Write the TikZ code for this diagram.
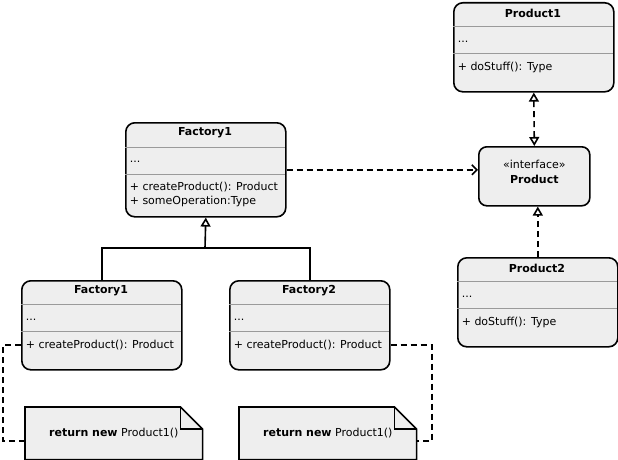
\documentclass[tikz,border=0pt]{standalone}
\usepackage{fontspec}
\setsansfont{DejaVu Sans}
\usetikzlibrary{arrows.meta}
\definecolor{boxgray}{HTML}{EEEEEE}
\definecolor{sepgray}{HTML}{9A9A9A}

\begin{document}
\begin{tikzpicture}
  [x=1pt,y=-1pt,line width=1.6pt,
   every node/.style={font=\sffamily\fontsize{11}{14}\selectfont,inner sep=0pt},
   box/.style={draw,rounded corners=9pt,fill=boxgray,anchor=north west,minimum width=160,minimum height=89},
   title/.style={font=\sffamily\bfseries\fontsize{11}{14}\selectfont},
   member/.style={anchor=west,align=left},
   sep/.style={draw=sepgray,line width=0.8pt},
   dline/.style={dash pattern=on 6pt off 4pt},
   notebox/.style={anchor=north west,minimum width=176,minimum height=51},
   tri/.tip={Triangle[open,length=9pt,width=10pt]},
   inherit/.style={-tri}]
  \useasboundingbox (0,0) rectangle (618,460);

  % classes with one operation
  \foreach \nm/\x/\y/\ttl/\op in {p1/453/2/Product1/{+ doStuff(): Type},
      p2/457/257/Product2/{+ doStuff(): Type},
      fb/21/280/Factory1/{+ createProduct(): Product},
      fc/229/280/Factory2/{+ createProduct(): Product}}
  {
    \node[box] (\nm) at (\x,\y) {};
    \node[title] (\nm-t) at (\x+80,\y+11) {\ttl};
    \draw[sep] (\x,\y+24) -- (\x+160,\y+24);
    \node[member] (\nm-a) at (\x+4,\y+40) {...};
    \draw[sep] (\x,\y+51) -- (\x+160,\y+51);
    \node[member] (\nm-o) at (\x+4,\y+65) {\op};
  }

  % abstract factory
  \node[box,minimum height=94] (fa) at (125,122) {};
  \node[title] (fa-t) at (205,133) {Factory1};
  \draw[sep] (125,147) -- (285,147);
  \node[member] (fa-a) at (129,162) {...};
  \draw[sep] (125,174) -- (285,174);
  \node[member] (fa-o) at (129,194) {+ createProduct(): Product\\+ someOperation:Type};

  % interface
  \node[box,rounded corners=8pt,minimum width=111,minimum height=59] (pi) at (478,146) {};
  \node[align=center] (pi-t) at ([yshift=4pt]pi.center) {«interface»\\[1pt]\textbf{Product}};

  % notes
  \foreach \nm/\x in {n1/25,n2/239}
  {
    \node[notebox] (\nm) at (\x,407) {};
    \draw[fill=boxgray] (\nm.north west) -- ([xshift=-22pt]\nm.north east) -- ([yshift=-22pt]\nm.north east)
      -- (\nm.south east) -- (\nm.south west) -- cycle;
    \draw ([xshift=-22pt]\nm.north east) |- ([yshift=-22pt]\nm.north east);
    \node (\nm-t) at (\nm.center) {\textbf{return new} Product1()};
  }

  % connectors
  \coordinate (join) at (205,248);
  \draw (fb.north) |- (join) -| (fc.north);
  \draw[inherit] (join) -- (fa.south);
  \draw[dline,-{Straight Barb[length=5pt,width=10pt]}] (fa.east) -- (fa.east -| pi.west);
  \draw[dline,tri-tri] (p1.south) -- (pi.north);
  \draw[dline,-tri] (p2.north) -- (p2.north |- pi.south);
  \coordinate (c1) at (3,441);
  \coordinate (c2) at (432,441);
  \draw[dline] (fb-o.west -| fb.west) -| (c1) -- (c1 -| n1.west);
  \draw[dline] (fc-o.west -| fc.east) -| (c2) -- (c2 -| n2.east);

\end{tikzpicture}
\end{document}
